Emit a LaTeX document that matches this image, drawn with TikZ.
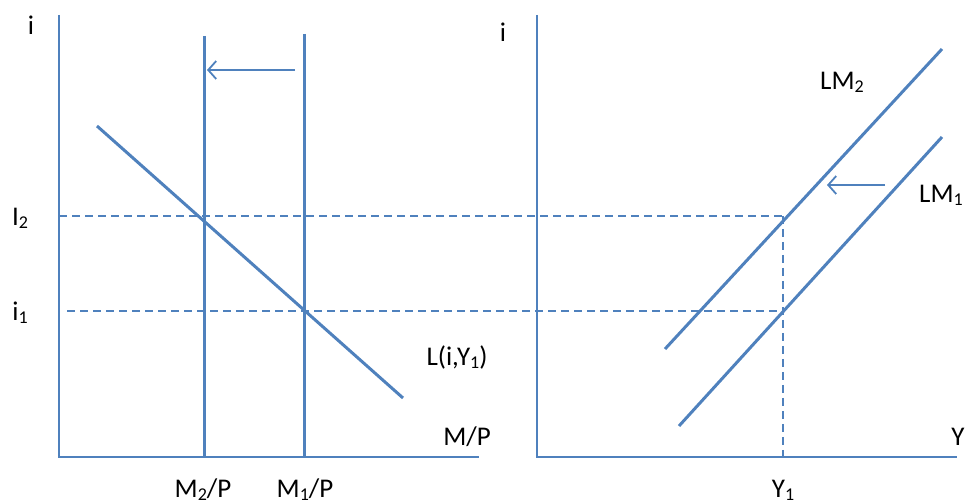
\documentclass[tikz,border=0pt]{standalone}
\usepackage{fontspec}
\setmainfont{Carlito}
\usetikzlibrary{arrows.meta}
\definecolor{lineblue}{HTML}{4F81BD}
% lowered subscript in the style of the text font
\newcommand{\lowsub}[1]{\raisebox{-0.12em}{\fontsize{18}{20}\selectfont #1}}
\begin{document}
\begin{tikzpicture}[x=1pt,y=-1pt,
  axis/.style={draw=lineblue,line width=1.8pt},
  curve/.style={draw=lineblue,line width=3pt},
  guide/.style={draw=lineblue,line width=1.7pt,dash pattern=on 8pt off 5pt},
  shiftarrow/.style={draw=lineblue,line width=1.8pt,-{Straight Barb[length=8pt,width=18pt,line width=1.8pt]}},
  lbl/.style={font=\fontsize{27}{30}\selectfont,inner sep=0pt,text=black}]
\useasboundingbox (0,0) rectangle (967,502);

% left panel: money market
\coordinate (lo) at (59,457);
\coordinate (ltop) at (59,15);
\coordinate (lend) at (479,457);
\draw[axis] (ltop) -- (lo) -- (lend);

\coordinate (m2t) at (204,36);
\coordinate (m2b) at (204,457);
\coordinate (m1t) at (304,34);
\coordinate (m1b) at (304,457);
\draw[curve] (m2t) -- (m2b);
\draw[curve] (m1t) -- (m1b);

\coordinate (ds) at (97,126);
\coordinate (de) at (403,398);
\draw[curve] (ds) -- (de);

\coordinate (a1s) at (295,70);
\coordinate (a1e) at (207,70);
\draw[shiftarrow] (a1s) -- (a1e);

% right panel: LM curves
\coordinate (ro) at (537,457);
\coordinate (rtop) at (537,15);
\coordinate (rend) at (957,457);
\draw[axis] (rtop) -- (ro) -- (rend);

\coordinate (lm2s) at (665,349);
\coordinate (lm2e) at (942,49);
\coordinate (lm1s) at (679,426);
\coordinate (lm1e) at (942,137);
\draw[curve] (lm2s) -- (lm2e);
\draw[curve] (lm1s) -- (lm1e);

\coordinate (a2s) at (885,185);
\coordinate (a2e) at (827,185);
\draw[shiftarrow] (a2s) -- (a2e);

% guide lines
\coordinate (g2s) at (59,216);
\coordinate (g2e) at (783,216);
\coordinate (g1s) at (67,311);
\coordinate (g1e) at (783,311);
\coordinate (y1b) at (783,457);
\draw[guide] (g2s) -- (g2e);
\draw[guide] (g1s) -- (g1e);
\draw[guide] (g2e) -- (y1b);

% labels
\node[lbl] (li) at (31,25) {i};
\node[lbl] (ri) at (503,32) {i};
\node[lbl] (i2) at (20,218) {I\lowsub{2}};
\node[lbl] (i1) at (20,313) {i\lowsub{1}};
\node[lbl] (L) at (457,357) {L(i,Y\lowsub{1})};
\node[lbl] (mp) at (467,437) {M/P};
\node[lbl] (m2p) at (203,490) {M\lowsub{2}/P};
\node[lbl] (m1p) at (305,490) {M\lowsub{1}/P};
\node[lbl] (lm2) at (842,82) {LM\lowsub{2}};
\node[lbl] (lm1) at (941,195) {LM\lowsub{1}};
\node[lbl] (y) at (958,437) {Y};
\node[lbl] (y1) at (783,490) {Y\lowsub{1}};
\end{tikzpicture}
\end{document}
